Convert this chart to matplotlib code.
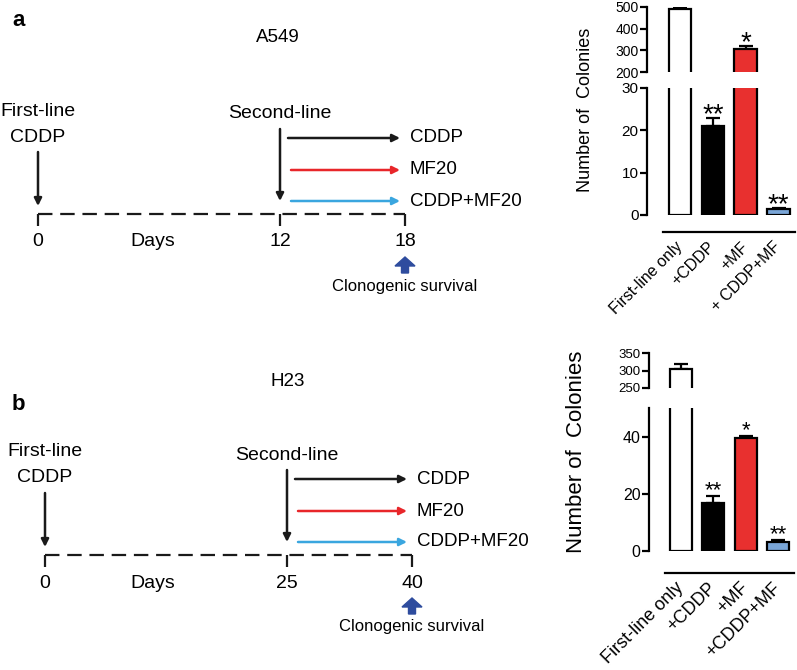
import matplotlib
matplotlib.use("Agg")
import matplotlib.pyplot as plt

plt.rcParams['font.family'] = ['Liberation Sans', 'DejaVu Sans']

# timeline schematic
cell_lines = ["A549", "H23"]
panel_letters = ["a", "b"]
day_ticks_a = ["0", "12", "18"]
day_ticks_b = ["0", "25", "40"]
treatments = ["CDDP", "MF20", "CDDP+MF20"]
treat_colors = ["#1a1a1a", "#e8262a", "#3aa6df"]

# bar charts
bar_labels_a = ["First-line only", "+CDDP", "+MF", "+ CDDP+MF"]
bar_labels_b = ["First-line only", "+CDDP", "+MF", "+CDDP+MF"]
colonies_a = [492, 21.0, 305, 1.3]
err_a = [5, 1.8, 13, 0.4]
colonies_b = [303, 16.9, 39.6, 3.2]
err_b = [17, 2.4, 0.6, 0.5]
stars = ["", "**", "*", "**"]
bar_colors = ["white", "black", "#e8302f", "#7aa6d8"]

W, H = 797, 670
fig = plt.figure(figsize=(W / 100, H / 100), dpi=100)


def px(l, t, r, b):
    return [l / W, 1 - b / H, (r - l) / W, (b - t) / H]


# ---- schematic (pixel coordinates overlay) ----
ax0 = fig.add_axes([0, 0, 1, 1])
ax0.set_xlim(0, W)
ax0.set_ylim(H, 0)
ax0.axis("off")


def arrow(x0, y0, x1, y1, color):
    ax0.annotate("", xy=(x1, y1), xytext=(x0, y0),
                 arrowprops=dict(arrowstyle="-|>", lw=1.8, color=color,
                                 mutation_scale=11, shrinkA=0, shrinkB=0))


def timeline(dy, letter, letter_xy, line, title_xy, ticks, xs):
    x0, x1, x2 = xs
    ax0.text(letter_xy[0], letter_xy[1] + dy, letter, fontsize=16, fontweight="bold",
             ha="center", va="center")
    ax0.text(title_xy[0], title_xy[1] + dy, line, fontsize=13.5, ha="center", va="center")
    ax0.text(x0, 111 + dy, "First-line", fontsize=14, ha="center", va="center")
    ax0.text(x0, 137 + dy, "CDDP", fontsize=14, ha="center", va="center")
    arrow(x0, 152 + dy, x0, 206 + dy, "#1a1a1a")
    ax0.text(x1, 114 + dy, "Second-line", fontsize=14, ha="center", va="center")
    arrow(x1, 129 + dy, x1, 201 + dy, "#1a1a1a")
    for i, (name, c) in enumerate(zip(treatments, treat_colors)):
        y = [138, 170, 201][i] + dy
        start = x1 + (8 if i == 0 else 11)
        arrow(start, y, x2 - 5, y, c)
        ax0.text(x2 + 5, y, name, fontsize=13.5, ha="left", va="center")
    ax0.plot([x0, x2], [214 + dy, 214 + dy], color="#1a1a1a", lw=1.6,
             ls=(0, (6.5, 3.5)))
    ax0.vlines([x0, x1, x2], 214 + dy, 226 + dy, color="#1a1a1a", lw=1.6)
    for x, t in zip(xs, ticks):
        ax0.text(x, 242 + dy, t, fontsize=14, ha="center", va="center")
    ax0.text(153, 242 + dy, "Days", fontsize=14, ha="center", va="center")
    ax0.arrow(x2, 273 + dy, 0, -16, width=7, head_width=20, head_length=9,
              length_includes_head=True, color="#2e4c9e")
    ax0.text(x2, 286 + dy, "Clonogenic survival", fontsize=12, ha="center", va="center")


timeline(0, panel_letters[0], (19, 20), cell_lines[0], (278, 37), day_ticks_a, (38, 280, 405))
timeline(341, panel_letters[1], (18, 64), cell_lines[1], (288, 41), day_ticks_b, (45, 287, 412))


# ---- bar charts with broken axis ----
def bar_panel(upper_box, lower_box, upper_lim, upper_ticks, lower_lim, lower_ticks,
              values, errs, labels, out_pt, ylabel_xy, ylabel_size,
              tick_sizes, label_size, star_size, star_off):
    ax_u = fig.add_axes(px(*upper_box))
    ax_l = fig.add_axes(px(*lower_box))
    x = range(len(values))
    for ax, lim, ticks, ts in ((ax_u, upper_lim, upper_ticks, tick_sizes[0]),
                               (ax_l, lower_lim, lower_ticks, tick_sizes[1])):
        ax.bar(x, values, width=0.68, color=bar_colors, edgecolor="black", linewidth=1.6,
               zorder=2)
        ax.errorbar(x, values, yerr=[[0] * len(values), errs], fmt="none", ecolor="black",
                    elinewidth=1.6, capsize=5, capthick=1.6, zorder=1)
        ax.set_ylim(*lim)
        ax.set_yticks(ticks)
        ax.set_xlim(-1.0, 3.5)
        for s in ("top", "right", "bottom"):
            ax.spines[s].set_visible(False)
        ax.spines["left"].set_linewidth(1.6)
        ax.tick_params(axis="y", length=5, width=1.6, labelsize=ts, pad=1)
        ax.set_xticks([])
    # bottom rule below the lower axes carrying the rotated labels
    ax_l.spines["bottom"].set_visible(True)
    ax_l.spines["bottom"].set_position(("outward", out_pt))
    ax_l.spines["bottom"].set_bounds(-0.5, 3.5)
    ax_l.spines["bottom"].set_linewidth(1.6)
    ax_l.set_xticks(list(x))
    ax_l.set_xticklabels(labels, rotation=45, ha="right", va="center",
                         rotation_mode="anchor", fontsize=label_size)
    ax_l.tick_params(axis="x", length=0, pad=9)
    for i, (v, e, s) in enumerate(zip(values, errs, stars)):
        if not s:
            continue
        top = v + e
        ax = ax_u if top >= upper_lim[0] else ax_l
        ax.annotate(s, (i, top), xytext=(0, star_off), textcoords="offset points",
                    fontsize=star_size, ha="center", va="baseline")
    fig.text(ylabel_xy[0] / W, 1 - ylabel_xy[1] / H, "Number of  Colonies", rotation=90,
             ha="center", va="center", fontsize=ylabel_size)


bar_panel((647, 7, 795, 72), (647, 88, 795, 215), (200, 500), [200, 300, 400, 500],
          (0, 30), [0, 10, 20, 30], colonies_a, err_a, bar_labels_a, 12.2, (585, 110), 13,
          (10, 11), 11.5, 20, -3)
bar_panel((649, 353, 794, 388), (649, 408, 794, 551), (250, 350), [250, 300, 350],
          (0, 50), [0, 20, 40], colonies_b, err_b, bar_labels_b, 15.8, (577, 452), 16,
          (9.5, 11.5), 13, 16, 0)

fig.savefig("out.png", dpi=100)
